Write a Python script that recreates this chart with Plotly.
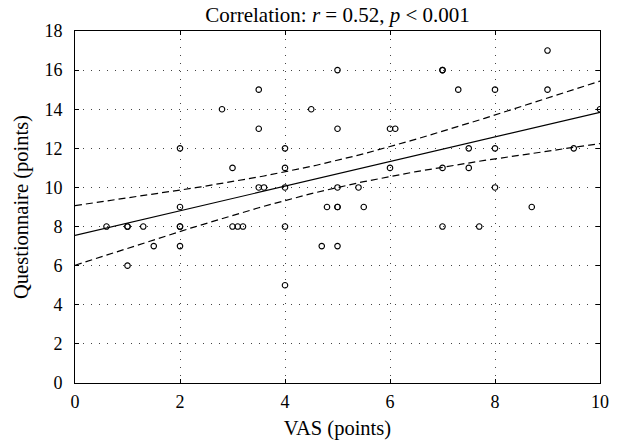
import numpy as np
import plotly.graph_objects as go

vas = [0.6, 1, 1, 1, 1.3, 1.5, 2, 2, 2, 2, 2, 2.8, 3, 3, 3.1, 3.2, 3.5, 3.5, 3.5, 3.6,
       4, 4, 4, 4, 4, 4.5, 4.7, 4.8, 5, 5, 5, 5, 5, 5, 5.4, 5.5, 6, 6.1, 6,
       7, 7, 7, 7, 7.3, 7.5, 7.5, 7.7, 8, 8, 8, 8.7, 9, 9, 9.5, 10]
quest = [8, 8, 8, 6, 8, 7, 12, 9, 8, 8, 7, 14, 11, 8, 8, 8, 15, 13, 10, 10,
         12, 11, 10, 8, 5, 14, 7, 9, 16, 13, 10, 9, 9, 7, 10, 9, 13, 13, 11,
         16, 16, 11, 8, 15, 12, 11, 8, 15, 12, 10, 9, 17, 15, 12, 14]

x_ticks = [0, 2, 4, 6, 8, 10]
y_ticks = [0, 2, 4, 6, 8, 10, 12, 14, 16, 18]

x = np.array(vas, float)
y = np.array(quest, float)
n = len(x)
slope, intercept = np.polyfit(x, y, 1)
xs = np.linspace(0, 10, 101)
yhat = intercept + slope * xs
resid = y - (intercept + slope * x)
s = np.sqrt(np.sum(resid ** 2) / (n - 2))
sxx = np.sum((x - x.mean()) ** 2)
t_crit = 2.006
half = t_crit * s * np.sqrt(1 / n + (xs - x.mean()) ** 2 / sxx)

fig = go.Figure()
fig.add_trace(go.Scatter(x=xs, y=yhat, mode="lines",
                         line=dict(color="black", width=1.2), showlegend=False))
fig.add_trace(go.Scatter(x=xs, y=yhat + half, mode="lines",
                         line=dict(color="black", width=1.2, dash="7px,4px"), showlegend=False))
fig.add_trace(go.Scatter(x=xs, y=yhat - half, mode="lines",
                         line=dict(color="black", width=1.2, dash="7px,4px"), showlegend=False))
fig.add_trace(go.Scatter(x=vas, y=quest, mode="markers",
                         marker=dict(symbol="circle-open", size=5.5, color="black",
                                     line=dict(width=1.1, color="black")),
                         showlegend=False))

font_family = "Liberation Serif"
axis_common = dict(
    showline=True, linecolor="black", linewidth=1, mirror="ticks",
    ticks="inside", ticklen=4, tickcolor="black",
    showgrid=True, gridcolor="#444444", gridwidth=1, griddash="1px,7px",
    zeroline=False, automargin=False,
    tickfont=dict(family=font_family, size=18, color="black"),
)
fig.update_xaxes(range=[0, 10], tickvals=x_ticks, ticklabelstandoff=2,
                 title=dict(text="VAS (points)", font=dict(family=font_family, size=20.5, color="black"), standoff=10),
                 **axis_common)
fig.update_yaxes(range=[0, 18], tickvals=y_ticks, ticklabelstandoff=8,
                 title=dict(text="Questionnaire (points)", font=dict(family=font_family, size=20.5, color="black"), standoff=10),
                 **axis_common)

fig.update_layout(
    width=621, height=447,
    margin=dict(l=75, r=21, t=31, b=64),
    paper_bgcolor="white", plot_bgcolor="white",
    hovermode=False,
    title=dict(text="Correlation: <i>r</i> = 0.52, <i>p</i> < 0.001",
               x=0.5, xanchor="center", xref="paper",
               y=1 - 15 / 447, yanchor="middle", yref="container",
               font=dict(family=font_family, size=21, color="black")),
)

fig.write_html("out.html", config={"displayModeBar": False},
               post_script="document.body.style.margin='0';")
